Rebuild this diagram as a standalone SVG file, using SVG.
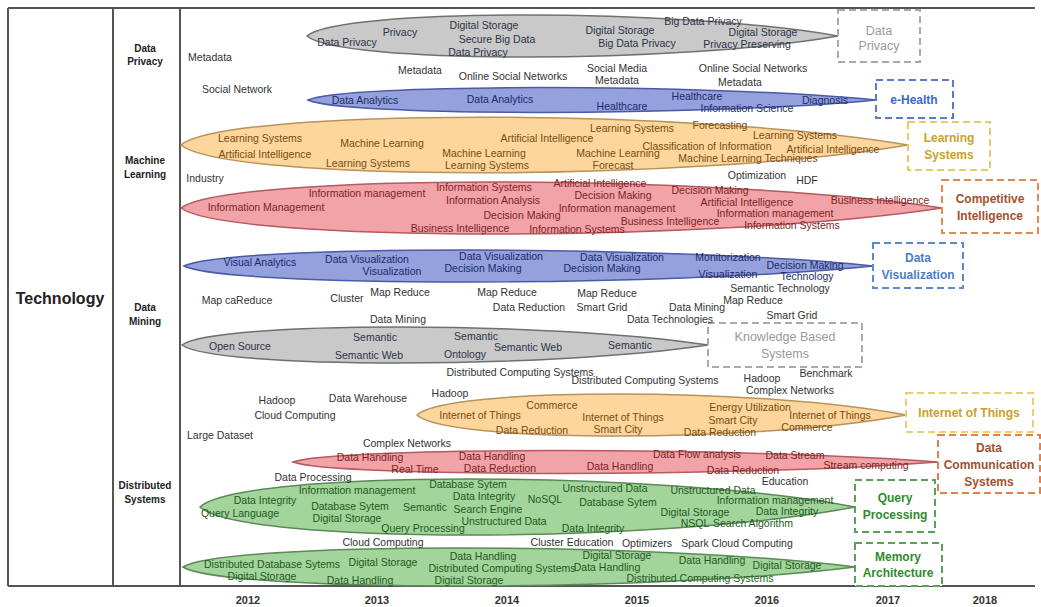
<svg xmlns="http://www.w3.org/2000/svg" width="1041" height="607" viewBox="0 0 1041 607">
<style>
text{font-family:"Liberation Sans",Arial,sans-serif;text-anchor:middle;dominant-baseline:central}
.t{font-size:10.5px;fill:#333}
.g{font-size:10.5px;fill:#2b3347}
.b{font-size:10.5px;fill:#1b2a6b}
.y{font-size:10.5px;fill:#7b4a12}
.r{font-size:10.5px;fill:#7d1f24}
.n{font-size:10.5px;fill:#1d5a1d}
.cat{font-size:10px;font-weight:bold;fill:#222}
.yr{font-size:11px;font-weight:bold;fill:#333}
.frame{stroke:#555;stroke-width:2;fill:none}
.band{stroke-width:1.5}
.gray{fill:#c9c9c9;stroke:#707070}
.blue{fill:#95a1dc;stroke:#4a5aa6}
.yel{fill:#fcd69c;stroke:#b8935a}
.red{fill:#f2a3a8;stroke:#b45a60}
.grn{fill:#a3d49c;stroke:#5a8a55}
.box{fill:#fff;stroke-width:2;stroke-dasharray:7,4}
.bl{font-size:12.5px}
.bb{font-size:12px;font-weight:bold}
</style>
<g id="frame">
<line class="frame" x1="8" y1="8" x2="1035" y2="8"/>
<line class="frame" x1="8" y1="586" x2="1035" y2="586"/>
<line class="frame" x1="8" y1="8" x2="8" y2="586"/>
<line class="frame" x1="113" y1="8" x2="113" y2="586"/>
<line class="frame" x1="180" y1="8" x2="180" y2="586"/>
</g>
<g id="labels">
<text x="60" y="298" style="font-size:16px;font-weight:bold;fill:#222">Technology</text>
<text class="cat" x="145" y="48">Data</text><text class="cat" x="145" y="61">Privacy</text>
<text class="cat" x="145" y="160">Machine</text><text class="cat" x="145" y="174">Learning</text>
<text class="cat" x="145" y="307">Data</text><text class="cat" x="145" y="321">Mining</text>
<text class="cat" x="145" y="485">Distributed</text><text class="cat" x="145" y="499">Systems</text>
</g>
<g id="years">
<text class="yr" x="248" y="600">2012</text><text class="yr" x="377" y="600">2013</text><text class="yr" x="507" y="600">2014</text><text class="yr" x="637" y="600">2015</text><text class="yr" x="767" y="600">2016</text><text class="yr" x="888" y="600">2017</text><text class="yr" x="985" y="600">2018</text>
</g>
<g id="band-data-privacy">
<path class="band gray" d="M307,36 C339,8 679,8 838,36 C679,64 339,64 307,36Z"/>
<text class="g" x="347" y="42">Data Privacy</text>
<text class="g" x="400" y="32">Privacy</text>
<text class="g" x="484" y="25">Digital Storage</text>
<text class="g" x="497" y="39">Secure Big Data</text>
<text class="g" x="478" y="52">Data Privacy</text>
<text class="g" x="620" y="30">Digital Storage</text>
<text class="g" x="637" y="43">Big Data Privacy</text>
<text class="g" x="703" y="21">Big Data Privacy</text>
<text class="g" x="763" y="32">Digital Storage</text>
<text class="g" x="747" y="44">Privacy Preserving</text>
</g>
<g id="box-data-privacy">
<rect class="box" x="838" y="10" width="82" height="52" stroke="#aaa"/>
<text class="bl" x="879" y="31" fill="#999">Data</text>
<text class="bl" x="879" y="46" fill="#999">Privacy</text>
</g>
<g id="band-ehealth">
<path class="band blue" d="M308,100 C342,83.4 706,83.4 876,100 C706,116.6 342,116.6 308,100Z"/>
<text class="b" x="365" y="100">Data Analytics</text>
<text class="b" x="500" y="99">Data Analytics</text>
<text class="b" x="622" y="106">Healthcare</text>
<text class="b" x="697" y="96">Healthcare</text>
<text class="b" x="747" y="108">Information Science</text>
<text class="b" x="825" y="100">Diagnosis</text>
</g>
<g id="box-ehealth">
<rect class="box" x="876" y="80" width="77" height="38" stroke="#5a7ad0"/>
<text class="bb" x="914" y="100" fill="#3a6acc">e-Health</text>
</g>
<g id="band-learning-systems">
<path class="band yel" d="M181,145 C225,108 690,108 908,145 C690,182 225,182 181,145Z"/>
<text class="y" x="260" y="138">Learning Systems</text>
<text class="y" x="265" y="154">Artificial Intelligence</text>
<text class="y" x="382" y="143">Machine Learning</text>
<text class="y" x="368" y="163">Learning Systems</text>
<text class="y" x="484" y="153">Machine Learning</text>
<text class="y" x="487" y="165">Learning Systems</text>
<text class="y" x="547" y="138">Artificial Intelligence</text>
<text class="y" x="632" y="128">Learning Systems</text>
<text class="y" x="720" y="125">Forecasting</text>
<text class="y" x="795" y="135">Learning Systems</text>
<text class="y" x="707" y="146">Classification of Information</text>
<text class="y" x="833" y="149">Artificial Intelligence</text>
<text class="y" x="618" y="153">Machine Learning</text>
<text class="y" x="613" y="165">Forecast</text>
<text class="y" x="748" y="158">Machine Learning Techniques</text>
</g>
<g id="box-learning-systems">
<rect class="box" x="908" y="122" width="82" height="48" stroke="#e3cc66"/>
<text class="bb" x="949" y="138" fill="#c9a227">Learning</text>
<text class="bb" x="949" y="155" fill="#c9a227">Systems</text>
</g>
<g id="band-competitive-intelligence">
<path class="band red" d="M181,208 C227,173.4 714,173.4 942,208 C714,242.6 227,242.6 181,208Z"/>
<text class="r" x="367" y="193">Information management</text>
<text class="r" x="484" y="187">Information Systems</text>
<text class="r" x="493" y="200">Information Analysis</text>
<text class="r" x="266" y="207">Information Management</text>
<text class="r" x="600" y="183">Artificial Intelligence</text>
<text class="r" x="710" y="190">Decision Making</text>
<text class="r" x="613" y="195">Decision Making</text>
<text class="r" x="617" y="208">Information management</text>
<text class="r" x="747" y="202">Artificial Intelligence</text>
<text class="r" x="880" y="200">Business Intelligence</text>
<text class="r" x="670" y="221">Business Intelligence</text>
<text class="r" x="775" y="213">Information management</text>
<text class="r" x="792" y="225">Information Systems</text>
<text class="r" x="522" y="215">Decision Making</text>
<text class="r" x="460" y="228">Business Intelligence</text>
<text class="r" x="577" y="229">Information Systems</text>
</g>
<g id="box-competitive-intelligence">
<rect class="box" x="942" y="180" width="96" height="53" stroke="#e28a52"/>
<text class="bb" x="990" y="199" fill="#a0522d">Competitive</text>
<text class="bb" x="990" y="216" fill="#a0522d">Intelligence</text>
</g>
<g id="band-data-visualization">
<path class="band blue" d="M184,266 C225,244.7 666,244.7 873,266 C666,287.3 225,287.3 184,266Z"/>
<text class="b" x="260" y="262">Visual Analytics</text>
<text class="b" x="367" y="259">Data Visualization</text>
<text class="b" x="392" y="271">Visualization</text>
<text class="b" x="501" y="256">Data Visualization</text>
<text class="b" x="483" y="268">Decision Making</text>
<text class="b" x="622" y="257">Data Visualization</text>
<text class="b" x="602" y="268">Decision Making</text>
<text class="b" x="728" y="257">Monitorization</text>
<text class="b" x="728" y="274">Visualization</text>
<text class="b" x="805" y="265">Decision Making</text>
<text class="b" x="807" y="276">Technology</text>
</g>
<g id="box-data-visualization">
<rect class="box" x="873" y="243" width="90" height="45" stroke="#5a8ad0"/>
<text class="bb" x="918" y="258" fill="#4a80c8">Data</text>
<text class="bb" x="918" y="275" fill="#4a80c8">Visualization</text>
</g>
<g id="band-knowledge-based">
<path class="band gray" d="M182,345 C214,321 550,321 708,345 C550,369 214,369 182,345Z"/>
<text class="g" x="240" y="346">Open Source</text>
<text class="g" x="375" y="337">Semantic</text>
<text class="g" x="369" y="355">Semantic Web</text>
<text class="g" x="476" y="336">Semantic</text>
<text class="g" x="465" y="354">Ontology</text>
<text class="g" x="528" y="347">Semantic Web</text>
<text class="g" x="630" y="345">Semantic</text>
</g>
<g id="box-knowledge-based">
<rect class="box" x="708" y="323" width="154" height="44" stroke="#aaa"/>
<text class="bl" x="785" y="337" fill="#999">Knowledge Based</text>
<text class="bl" x="785" y="354" fill="#999">Systems</text>
</g>
<g id="band-iot">
<path class="band yel" d="M417,415 C446,387 759,387 906,415 C759,443 446,443 417,415Z"/>
<text class="y" x="480" y="415">Internet of Things</text>
<text class="y" x="532" y="430">Data Reduction</text>
<text class="y" x="552" y="405">Commerce</text>
<text class="y" x="623" y="417">Internet of Things</text>
<text class="y" x="618" y="429">Smart City</text>
<text class="y" x="750" y="407">Energy Utilization</text>
<text class="y" x="733" y="420">Smart City</text>
<text class="y" x="720" y="432">Data Reduction</text>
<text class="y" x="830" y="415">Internet of Things</text>
<text class="y" x="807" y="427">Commerce</text>
</g>
<g id="box-iot">
<rect class="box" x="906" y="393" width="127" height="39" stroke="#e8d070"/>
<text class="bb" x="969" y="413" fill="#c9a227">Internet of Things</text>
</g>
<g id="band-dcs">
<path class="band red" d="M293,462 C332,446.7 745,446.7 938,462 C745,477.3 332,477.3 293,462Z"/>
<text class="r" x="370" y="457">Data Handling</text>
<text class="r" x="415" y="469">Real Time</text>
<text class="r" x="492" y="456">Data Handling</text>
<text class="r" x="500" y="468">Data Reduction</text>
<text class="r" x="620" y="466">Data Handling</text>
<text class="r" x="697" y="454">Data Flow analysis</text>
<text class="r" x="743" y="470">Data Reduction</text>
<text class="r" x="795" y="455">Data Stream</text>
<text class="r" x="866" y="465">Stream computing</text>
</g>
<g id="box-dcs">
<rect class="box" x="938" y="435" width="102" height="58" stroke="#e2804c"/>
<text class="bb" x="989" y="448" fill="#a0522d">Data</text>
<text class="bb" x="989" y="465" fill="#a0522d">Communication</text>
<text class="bb" x="989" y="482" fill="#a0522d">Systems</text>
</g>
<g id="band-query-processing">
<path class="band grn" d="M200,507 C239,469.7 659,469.7 855,507 C659,544.3 239,544.3 200,507Z"/>
<text class="n" x="357" y="490">Information management</text>
<text class="n" x="265" y="500">Data Integrity</text>
<text class="n" x="240" y="513">Query Language</text>
<text class="n" x="350" y="506">Database Sytem</text>
<text class="n" x="425" y="507">Semantic</text>
<text class="n" x="347" y="518">Digital Storage</text>
<text class="n" x="423" y="528">Query Processing</text>
<text class="n" x="468" y="484">Database Sytem</text>
<text class="n" x="484" y="496">Data Integrity</text>
<text class="n" x="488" y="509">Search Engine</text>
<text class="n" x="504" y="521">Unstructured Data</text>
<text class="n" x="545" y="499">NoSQL</text>
<text class="n" x="605" y="488">Unstructured Data</text>
<text class="n" x="618" y="502">Database Sytem</text>
<text class="n" x="593" y="528">Data Integrity</text>
<text class="n" x="713" y="490">Unstructured Data</text>
<text class="n" x="775" y="500">Information management</text>
<text class="n" x="695" y="512">Digital Storage</text>
<text class="n" x="695" y="523">NSQL</text>
<text class="n" x="753" y="523">Search Algorithm</text>
<text class="n" x="787" y="511">Data Integrity</text>
</g>
<g id="box-query-processing">
<rect class="box" x="855" y="480" width="80" height="52" stroke="#5aa05a"/>
<text class="bb" x="895" y="498" fill="#2e8b2e">Query</text>
<text class="bb" x="895" y="515" fill="#2e8b2e">Processing</text>
</g>
<g id="band-memory-architecture">
<path class="band grn" d="M183,567 C223,541.7 653,541.7 855,567 C653,592.3 223,592.3 183,567Z"/>
<text class="n" x="272" y="564">Distributed Database Sytems</text>
<text class="n" x="262" y="576">Digital Storage</text>
<text class="n" x="383" y="562">Digital Storage</text>
<text class="n" x="360" y="580">Data Handling</text>
<text class="n" x="483" y="556">Data Handling</text>
<text class="n" x="502" y="568">Distributed Computing Systems</text>
<text class="n" x="469" y="580">Digital Storage</text>
<text class="n" x="617" y="555">Digital Storage</text>
<text class="n" x="607" y="567">Data Handling</text>
<text class="n" x="700" y="578">Distributed Computing Systems</text>
<text class="n" x="712" y="560">Data Handling</text>
<text class="n" x="787" y="565">Digital Storage</text>
</g>
<g id="box-memory-architecture">
<rect class="box" x="855" y="543" width="87" height="43" stroke="#5aa05a"/>
<text class="bb" x="898" y="557" fill="#2e8b2e">Memory</text>
<text class="bb" x="898" y="573" fill="#2e8b2e">Architecture</text>
</g>
<g id="free-terms">
<text class="t" x="210" y="57">Metadata</text>
<text class="t" x="237" y="89">Social Network</text>
<text class="t" x="420" y="70">Metadata</text>
<text class="t" x="513" y="76">Online Social Networks</text>
<text class="t" x="617" y="68">Social Media</text>
<text class="t" x="617" y="80">Metadata</text>
<text class="t" x="753" y="68">Online Social Networks</text>
<text class="t" x="740" y="82">Metadata</text>
<text class="t" x="205" y="178">Industry</text>
<text class="t" x="757" y="175">Optimization</text>
<text class="t" x="807" y="180">HDF</text>
<text class="t" x="237" y="300">Map caReduce</text>
<text class="t" x="347" y="298">Cluster</text>
<text class="t" x="400" y="292">Map Reduce</text>
<text class="t" x="507" y="292">Map Reduce</text>
<text class="t" x="529" y="307">Data Reduction</text>
<text class="t" x="607" y="293">Map Reduce</text>
<text class="t" x="602" y="307">Smart Grid</text>
<text class="t" x="697" y="307">Data Mining</text>
<text class="t" x="670" y="319">Data Technologies</text>
<text class="t" x="780" y="288">Semantic Technology</text>
<text class="t" x="753" y="300">Map Reduce</text>
<text class="t" x="792" y="315">Smart Grid</text>
<text class="t" x="398" y="319">Data Mining</text>
<text class="t" x="520" y="372">Distributed Computing Systems</text>
<text class="t" x="645" y="380">Distributed Computing Systems</text>
<text class="t" x="762" y="378">Hadoop</text>
<text class="t" x="790" y="390">Complex Networks</text>
<text class="t" x="826" y="373">Benchmark</text>
<text class="t" x="277" y="400">Hadoop</text>
<text class="t" x="368" y="398">Data Warehouse</text>
<text class="t" x="450" y="393">Hadoop</text>
<text class="t" x="295" y="415">Cloud Computing</text>
<text class="t" x="220" y="435">Large Dataset</text>
<text class="t" x="407" y="443">Complex Networks</text>
<text class="t" x="313" y="477">Data Processing</text>
<text class="t" x="785" y="481">Education</text>
<text class="t" x="383" y="542">Cloud Computing</text>
<text class="t" x="572" y="542">Cluster Education</text>
<text class="t" x="647" y="543">Optimizers</text>
<text class="t" x="737" y="543">Spark Cloud Computing</text>
</g>
</svg>
